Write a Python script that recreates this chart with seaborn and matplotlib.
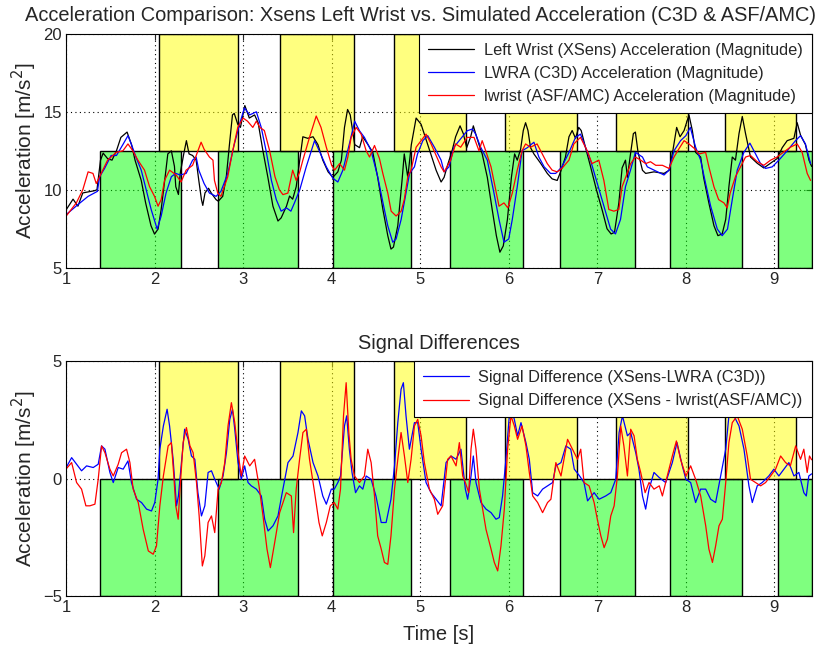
import matplotlib
matplotlib.use('Agg')
import pandas as pd
import seaborn as sns
import matplotlib.pyplot as plt
from matplotlib.patches import Rectangle

# phase intervals (s)
green_spans = [(1.38, 2.30), (2.72, 3.62), (4.02, 4.90), (5.34, 6.16),
               (6.58, 7.42), (7.82, 8.63), (9.04, 9.42)]
yellow_spans = [(2.045, 2.94), (3.42, 4.25), (4.70, 5.52), (5.96, 6.77),
                (7.21, 8.02), (8.44, 9.24)]

# top: acceleration magnitude
xsens_t = [1.00, 1.08, 1.135, 1.19, 1.32, 1.35, 1.39, 1.42, 1.47, 1.52, 1.57, 1.62, 1.69, 1.74, 1.78,
           1.85, 1.90, 1.96, 2.00, 2.04, 2.075, 2.12, 2.15, 2.19, 2.225, 2.24, 2.27, 2.29, 2.33, 2.36,
           2.39, 2.43, 2.47, 2.50, 2.53, 2.545, 2.57, 2.61, 2.64, 2.695, 2.72, 2.77, 2.81, 2.846, 2.88,
           2.90, 2.94, 2.97, 3.02, 3.07, 3.13, 3.17, 3.224, 3.28, 3.337, 3.394, 3.43, 3.49, 3.525, 3.56,
           3.60, 3.64, 3.675, 3.73, 3.79, 3.845, 3.90, 3.96, 4.014, 4.07, 4.11, 4.145, 4.18, 4.21, 4.26,
           4.315, 4.35, 4.41, 4.465, 4.52, 4.58, 4.634, 4.67, 4.698, 4.747, 4.795, 4.82, 4.86, 4.90,
           4.954, 5.01, 5.085, 5.18, 5.236, 5.27, 5.31, 5.36, 5.40, 5.45, 5.487, 5.525, 5.57, 5.60,
           5.626, 5.664, 5.70, 5.758, 5.814, 5.86, 5.90, 5.938, 5.985, 6.03, 6.066, 6.096, 6.134, 6.164,
           6.19, 6.217, 6.246, 6.284, 6.36, 6.435, 6.49, 6.547, 6.585, 6.64, 6.68, 6.716, 6.754, 6.79,
           6.818, 6.867, 6.923, 6.99, 7.055, 7.11, 7.156, 7.194, 7.243, 7.28, 7.318, 7.34, 7.37, 7.407,
           7.43, 7.46, 7.51, 7.546, 7.64, 7.753, 7.81, 7.847, 7.896, 7.934, 7.98, 8.035, 8.073, 8.11,
           8.167, 8.20, 8.26, 8.317, 8.362, 8.41, 8.45, 8.486, 8.524, 8.56, 8.60, 8.637, 8.674, 8.73,
           8.806, 8.88, 8.956, 9.03, 9.088, 9.144, 9.22, 9.257, 9.295, 9.35, 9.39, 9.42]
xsens_acc = [8.7, 9.4, 8.95, 9.8, 9.94, 10.0, 11.9, 12.35, 12.0, 11.9, 12.5, 13.36, 13.7, 12.9, 11.9,
             10.6, 9.15, 7.7, 7.16, 7.48, 8.74, 10.84, 12.3, 12.5, 11.5, 10.2, 9.7, 11.05, 12.3, 13.15,
             12.3, 12.2, 11.9, 10.6, 9.37, 9.0, 9.8, 10.1, 9.8, 9.37, 9.27, 9.58, 10.8, 12.9, 14.8,
             14.9, 14.2, 14.0, 15.4, 14.6, 14.8, 14.3, 12.5, 10.8, 8.95, 8.0, 8.2, 8.95, 9.6, 9.4,
             10.2, 11.9, 13.4, 13.3, 13.4, 12.9, 11.9, 11.15, 10.8, 11.15, 11.9, 14.0, 15.15, 14.8, 12.9,
             12.7, 13.4, 12.9, 12.4, 10.8, 8.7, 7.06, 6.2, 6.33, 7.7, 10.6, 12.3, 10.8, 12.9,
             14.6, 14.2, 12.9, 11.25, 10.5, 10.8, 11.6, 12.5, 13.4, 14.1, 13.6, 12.7, 13.4, 14.1,
             13.6, 12.9, 12.3, 10.8, 8.7, 7.06, 6.0, 6.4, 8.1, 10.8, 12.3, 11.9, 12.6, 13.8,
             14.3, 13.8, 12.7, 12.3, 11.7, 11.05, 10.7, 10.6, 11.15, 12.1, 13.4, 13.8, 13.3, 14.0,
             13.8, 12.7, 11.5, 10.0, 8.7, 7.5, 7.17, 7.27, 9.15, 11.4, 11.9, 10.8, 12.1, 13.6,
             13.7, 12.4, 11.25, 11.05, 11.15, 11.05, 11.25, 12.3, 14.0, 13.4, 13.8, 14.8, 13.8, 12.4,
             12.1, 10.8, 9.15, 7.7, 7.06, 7.17, 8.1, 10.2, 12.1, 11.9, 13.6, 14.7, 13.6, 12.1,
             11.7, 11.4, 11.7, 12.0, 12.7, 13.15, 13.3, 14.3, 13.5, 12.9, 11.9, 11.5]

c3d_t = [1.00, 1.135, 1.25, 1.355, 1.38, 1.436, 1.51, 1.57, 1.643, 1.70, 1.74, 1.79, 1.85, 1.906,
         1.962, 2.03, 2.075, 2.13, 2.19, 2.24, 2.29, 2.357, 2.43, 2.47, 2.50, 2.56, 2.62, 2.695, 2.75,
         2.827, 2.90, 2.96, 3.015, 3.074, 3.15, 3.205, 3.26, 3.32, 3.375, 3.43, 3.49, 3.54, 3.58,
         3.64, 3.713, 3.807, 3.86, 3.94, 4.014, 4.07, 4.127, 4.20, 4.26, 4.315, 4.37, 4.446, 4.52,
         4.58, 4.634, 4.69, 4.728, 4.785, 4.84, 4.88, 4.935, 4.97, 5.03, 5.085, 5.16, 5.236, 5.27,
         5.325, 5.38, 5.44, 5.53, 5.59, 5.626, 5.683, 5.758, 5.833, 5.89, 5.946, 6.00, 6.04, 6.096,
         6.15, 6.21, 6.284, 6.34, 6.40, 6.472, 6.53, 6.60, 6.68, 6.754, 6.81, 6.867, 6.923, 7.00,
         7.074, 7.15, 7.205, 7.262, 7.318, 7.375, 7.43, 7.51, 7.565, 7.64, 7.753, 7.81, 7.866, 7.94,
         8.00, 8.05, 8.11, 8.167, 8.223, 8.28, 8.355, 8.41, 8.47, 8.524, 8.58, 8.655, 8.723, 8.787,
         8.843, 8.90, 8.975, 9.05, 9.144, 9.238, 9.295, 9.35, 9.408]
c3d_acc = [8.4, 9.05, 9.58, 9.9, 10.84, 11.37, 12.2, 12.2, 12.9, 13.47, 12.9, 12.1, 11.26, 10.0,
           8.74, 7.48, 8.32, 9.79, 10.84, 11.05, 10.95, 11.05, 11.9, 12.1, 11.26, 10.4, 9.79, 9.58, 9.9,
           11.05, 12.9, 14.2, 15.25, 14.8, 15.0, 14.0, 12.5, 10.6, 9.37, 8.63, 8.84, 8.63, 9.16,
           10.0, 11.47, 13.15, 12.5, 11.47, 10.74, 10.5, 11.26, 12.94, 14.4, 13.78, 13.36, 12.5, 10.84,
           9.16, 7.69, 6.64, 6.85, 8.1, 9.8, 11.05, 11.47, 12.3, 13.15, 13.47, 12.73, 11.9, 11.15,
           11.47, 12.73, 13.15, 13.78, 13.9, 13.57, 12.73, 11.9, 9.79, 8.1, 6.64, 6.85, 8.1, 10.2,
           12.5, 12.7, 13.05, 12.1, 11.47, 11.05, 11.05, 11.47, 12.4, 13.36, 13.57, 12.73, 11.9, 10.4,
           8.95, 7.48, 7.17, 8.1, 10.2, 11.26, 12.4, 12.1, 11.47, 11.26, 10.95, 11.26, 12.5, 13.15,
           13.47, 14.0, 12.73, 11.9, 10.4, 8.95, 7.48, 7.06, 7.48, 9.37, 11.26, 12.4, 12.99, 12.3,
           11.68, 11.37, 11.47, 11.9, 12.5, 13.15, 13.47, 12.94, 11.68]

asf_t = [1.00, 1.117, 1.19, 1.25, 1.305, 1.342, 1.38, 1.47, 1.568, 1.643, 1.70, 1.755, 1.812, 1.887,
         1.944, 2.00, 2.04, 2.075, 2.113, 2.17, 2.244, 2.30, 2.357, 2.43, 2.49, 2.526, 2.56, 2.62,
         2.66, 2.677, 2.714, 2.75, 2.827, 2.883, 2.94, 3.00, 3.05, 3.11, 3.15, 3.19, 3.24, 3.30, 3.36,
         3.41, 3.45, 3.506, 3.56, 3.60, 3.64, 3.675, 3.75, 3.826, 3.88, 3.94, 4.00, 4.033, 4.09,
         4.145, 4.183, 4.22, 4.277, 4.333, 4.39, 4.428, 4.484, 4.54, 4.578, 4.634, 4.672, 4.728,
         4.785, 4.82, 4.86, 4.897, 4.954, 5.01, 5.066, 5.123, 5.18, 5.236, 5.27, 5.344, 5.40, 5.457,
         5.53, 5.608, 5.664, 5.70, 5.74, 5.80, 5.852, 5.89, 5.946, 5.99, 6.04, 6.096, 6.15, 6.19,
         6.246, 6.32, 6.378, 6.435, 6.49, 6.547, 6.60, 6.68, 6.735, 6.81, 6.886, 6.94, 7.017, 7.074,
         7.13, 7.187, 7.243, 7.28, 7.337, 7.377, 7.43, 7.49, 7.546, 7.60, 7.66, 7.735, 7.81, 7.866,
         7.922, 7.98, 8.035, 8.10, 8.15, 8.223, 8.26, 8.317, 8.37, 8.43, 8.467, 8.50, 8.56, 8.617,
         8.674, 8.73, 8.806, 8.88, 8.956, 9.03, 9.10, 9.18, 9.257, 9.313, 9.37, 9.408]
asf_acc = [8.3, 9.16, 10.0, 11.15, 11.05, 10.4, 10.84, 11.9, 12.4, 12.5, 12.94, 12.5, 11.9, 11.26,
           10.2, 9.58, 8.95, 9.37, 10.6, 11.26, 10.95, 10.5, 11.26, 11.57, 12.5, 13.05, 12.6, 12.1,
           11.9, 10.6, 9.79, 9.58, 10.84, 12.5, 14.0, 14.6, 14.4, 14.0, 14.4, 14.0, 13.8, 12.5, 10.84,
           10.0, 9.69, 9.79, 11.26, 10.6, 11.15, 11.9, 13.36, 14.73, 14.0, 12.73, 11.57, 11.26, 11.68,
           11.26, 12.1, 13.36, 14.0, 13.57, 12.5, 12.1, 12.84, 12.0, 11.05, 9.79, 8.63, 8.32,
           8.63, 9.37, 10.84, 11.26, 12.73, 13.15, 13.57, 12.94, 12.2, 11.47, 11.15, 11.9, 12.94, 12.73,
           13.36, 13.36, 12.5, 13.15, 12.5, 11.47, 10.0, 8.95, 9.16, 8.84, 9.79, 11.26, 12.5, 12.94,
           12.73, 12.94, 12.3, 11.68, 11.26, 11.15, 11.37, 11.9, 12.94, 13.36, 12.5, 11.68, 11.9, 10.6,
           8.74, 8.63, 8.74, 10.2, 11.05, 11.68, 12.1, 11.9, 11.68, 11.8, 11.57, 11.57, 11.37, 12.1,
           12.63, 13.15, 12.94, 12.63, 12.3, 12.4, 11.47, 10.2, 9.37, 9.16, 8.84, 9.79, 10.84, 11.47,
           12.1, 12.2, 11.8, 11.57, 11.9, 12.1, 12.4, 12.73, 12.94, 12.4, 11.05, 10.6]

# bottom: signal differences
diff_c3d_t = [1.00, 1.064, 1.12, 1.176, 1.233, 1.308, 1.364, 1.402, 1.44, 1.496, 1.534, 1.59, 1.646,
              1.70, 1.74, 1.797, 1.853, 1.91, 1.966, 2.003, 2.04, 2.06, 2.10, 2.142, 2.17, 2.21, 2.248,
              2.27, 2.304, 2.34, 2.38, 2.417, 2.455, 2.49, 2.53, 2.568, 2.605, 2.643, 2.68, 2.73, 2.774,
              2.812, 2.85, 2.88, 2.906, 2.943, 2.98, 3.018, 3.056, 3.093, 3.15, 3.206, 3.244, 3.282,
              3.338, 3.394, 3.45, 3.507, 3.564, 3.62, 3.658, 3.695, 3.733, 3.79, 3.846, 3.90, 3.94,
              3.996, 4.03, 4.07, 4.10, 4.145, 4.17, 4.20, 4.23, 4.27, 4.314, 4.352, 4.39, 4.446, 4.50,
              4.56, 4.615, 4.67, 4.71, 4.747, 4.784, 4.81, 4.84, 4.878, 4.935, 4.972, 5.01, 5.066,
              5.122, 5.18, 5.236, 5.292, 5.348, 5.405, 5.46, 5.51, 5.536, 5.574, 5.60, 5.63, 5.686,
              5.743, 5.80, 5.856, 5.893, 5.93, 5.968, 6.006, 6.025, 6.063, 6.10, 6.138, 6.194, 6.232,
              6.27, 6.326, 6.382, 6.438, 6.495, 6.532, 6.59, 6.645, 6.70, 6.74, 6.80, 6.85, 6.89, 6.964,
              7.02, 7.095, 7.152, 7.208, 7.246, 7.284, 7.34, 7.377, 7.434, 7.47, 7.51, 7.546, 7.584,
              7.64, 7.70, 7.772, 7.847, 7.90, 7.96, 8.00, 8.054, 8.11, 8.167, 8.224, 8.28, 8.336, 8.393,
              8.45, 8.486, 8.543, 8.60, 8.656, 8.712, 8.75, 8.806, 8.862, 8.937, 8.994, 9.05, 9.107,
              9.163, 9.22, 9.276, 9.332, 9.36, 9.388, 9.42]
diff_c3d = [0.45, 0.89, 0.61, 0.33, 0.54, 0.47, 0.61, 1.39, 1.25, 0.26, -0.17, 0.47, 0.4,
            0.75, -0.17, -0.88, -1.02, -1.3, -1.38, -1.02, -0.03, 1.25, 2.24, 2.95, 2.24, 0.82, -1.16,
            -0.74, 0.68, 2.1, 1.67, 0.96, 0.82, -0.6, -1.59, -1.16, 0.26, 0.33, -0.03, -0.45, 0.11,
            1.1, 2.52, 2.95, 2.1, 0.68, -0.03, 0.54, -0.17, -0.31, -0.45, -0.74, -1.73, -2.23,
            -2.01, -1.59, -0.45, 0.68, 0.96, 1.96, 2.88, 2.67, 1.67, 0.68, 0.11, -0.74, -1.09,
            -0.45, -0.45, -0.17, 0.11, 2.24, 2.67, 1.25, 0.26, -0.6, -0.31, -0.45, 0.11, -0.03, -0.74,
            -1.87, -1.87, -0.88, 0.54, 2.38, 3.8, 4.08, 2.67, 1.25, 2.38, 2.38, 1.25, -0.17,
            -0.6, -0.88, -1.16, 0.68, 0.96, 0.82, 1.25, -0.45, -0.88, 0.11, 0.96, -0.17, -1.02,
            -1.3, -1.45, -1.73, -1.66, -0.74, 0.82, 2.67, 2.95, 2.52, 1.82, 2.38, 1.53, 0.82,
            -0.6, -0.74, -0.45, -0.31, -0.17, 0.54, 0.68, 1.39, 1.25, 0.4, 0.11, -0.17, -0.95, -0.6,
            -0.88, -0.74, -0.6, -0.03, 1.96, 2.67, 1.82, 1.96, 1.1, 0.4, -0.74, -1.3, -0.45,
            0.26, 0.04, -0.17, 0.68, 1.53, 0.54, -0.03, -0.17, -1.02, -0.45, -0.45, -0.88, -1.02, 0.11,
            1.25, 2.67, 2.67, 2.24, 1.25, -0.31, -1.02, -0.31, -0.17, 0.11, 0.4, 0.11, 0.4,
            0.68, 0.11, 0.26, -0.6, -0.74, 0.11, 0.2]

diff_asf_t = [1.00, 1.064, 1.12, 1.176, 1.225, 1.27, 1.327, 1.364, 1.402, 1.44, 1.496, 1.534, 1.59,
              1.628, 1.684, 1.722, 1.759, 1.816, 1.872, 1.93, 1.985, 2.022, 2.06, 2.10, 2.154, 2.19,
              2.218, 2.24, 2.267, 2.293, 2.323, 2.36, 2.40, 2.436, 2.474, 2.504, 2.54, 2.568, 2.605,
              2.643, 2.68, 2.718, 2.755, 2.793, 2.83, 2.868, 2.906, 2.943, 2.98, 3.018, 3.075, 3.13,
              3.18, 3.225, 3.27, 3.308, 3.357, 3.413, 3.488, 3.545, 3.57, 3.60, 3.638, 3.676, 3.714,
              3.75, 3.808, 3.857, 3.894, 3.94, 3.985, 4.03, 4.07, 4.10, 4.134, 4.164, 4.194, 4.22,
              4.258, 4.314, 4.37, 4.408, 4.446, 4.484, 4.52, 4.56, 4.596, 4.634, 4.67, 4.71, 4.747,
              4.784, 4.822, 4.86, 4.897, 4.935, 4.972, 5.01, 5.047, 5.104, 5.16, 5.198, 5.254, 5.31,
              5.348, 5.405, 5.442, 5.48, 5.51, 5.548, 5.574, 5.60, 5.63, 5.668, 5.705, 5.743, 5.80,
              5.837, 5.875, 5.912, 5.95, 5.987, 6.025, 6.063, 6.10, 6.15, 6.194, 6.232, 6.27, 6.326,
              6.382, 6.438, 6.476, 6.532, 6.59, 6.664, 6.72, 6.776, 6.813, 6.85, 6.907, 6.964, 7.00,
              7.04, 7.077, 7.114, 7.152, 7.19, 7.227, 7.265, 7.30, 7.34, 7.377, 7.415, 7.452, 7.49,
              7.54, 7.584, 7.64, 7.70, 7.735, 7.79, 7.847, 7.893, 7.94, 8.00, 8.054, 8.11, 8.167, 8.224,
              8.26, 8.30, 8.336, 8.374, 8.412, 8.45, 8.486, 8.524, 8.58, 8.637, 8.693, 8.73, 8.787,
              8.844, 8.90, 8.957, 9.013, 9.07, 9.126, 9.18, 9.24, 9.295, 9.332, 9.37, 9.396, 9.42]
diff_asf = [0.4, 0.68, -0.17, -0.45, -1.16, -1.16, -1.09, -0.03, 1.39, 1.1, 0.4, 0.11, 0.61,
            1.1, 1.25, 0.68, -0.45, -1.02, -2.16, -3.08, -3.22, -2.87, -1.16, 0.11, 1.39, 1.53,
            0.11, -1.16, -1.73, -0.17, 1.53, 2.17, 1.39, 1.1, -0.17, -1.59, -3.72, -3.29, -1.87,
            -1.59, -2.3, -0.45, -0.17, 0.68, 2.24, 3.23, 2.38, 1.1, 0.11, 0.96, 0.54, 0.82,
            -0.31, -1.59, -3.0, -3.79, -2.72, -1.45, -0.6, -0.74, -2.3, -0.45, 0.82, 1.96, 2.1,
            0.82, -0.6, -1.87, -2.44, -1.87, -1.16, -1.02, -1.3, -0.45, 2.67, 4.08, 1.96, 0.82,
            0.11, -0.17, 0.11, 1.25, 0.68, -0.74, -2.44, -3.0, -3.57, -3.65, -2.44, -0.45, 0.82,
            1.96, 0.96, -0.17, 0.82, 2.24, 2.52, 1.82, 0.68, -0.45, -0.88, -1.52, -1.16, 0.82,
            0.96, 0.54, 1.53, 0.11, -0.17, -0.6, 1.25, 2.1, 1.25, -0.45, -1.3, -2.16, -3.0,
            -3.57, -3.93, -2.87, -1.3, 1.25, 2.67, 2.24, 1.67, 2.24, 1.39, 0.26, -0.74, -1.02,
            -1.45, -1.02, -0.88, 0.68, 0.11, 1.67, 1.25, 0.82, 1.25, -0.17, -0.31, -1.02, -1.73,
            -2.44, -2.94, -2.58, -1.59, -1.16, 0.11, 2.24, 1.39, 0.11, 2.1, 1.82, 0.82, 0.26,
            -0.6, -0.17, -0.45, -0.31, -0.74, 0.11, 0.96, 1.6, 0.82, 0.11, 0.54, -0.03, -0.74, -2.01,
            -3.0, -3.57, -2.87, -2.01, -1.73, -0.17, 1.53, 2.38, 2.67, 2.1, 0.96, -0.03, -0.17,
            -0.31, -0.17, 0.11, 0.4, 0.96, 0.68, 0.54, 1.39, 0.82, 1.25, 0.26, 0.96, 0.8]

sns.set_style('white')
plt.rcParams['font.family'] = ['Liberation Sans', 'DejaVu Sans']
plt.rcParams['axes.linewidth'] = 0.8

fig = plt.figure(figsize=(8.35, 6.5), dpi=100)
ax1 = fig.add_axes([0.079, 0.588, 0.893, 0.36])
ax2 = fig.add_axes([0.079, 0.083, 0.893, 0.3615])


def draw_phases(ax, lo, mid, hi):
    for a, b in green_spans:
        ax.add_patch(Rectangle((a, lo), b - a, mid - lo, facecolor=(0, 1, 0, 0.5),
                               edgecolor='black', linewidth=1.0, zorder=1))
    for a, b in yellow_spans:
        ax.add_patch(Rectangle((a, mid), b - a, hi - mid, facecolor=(1, 1, 0, 0.5),
                               edgecolor='black', linewidth=1.0, zorder=1))


def style_axes(ax, ylim, yticks):
    ax.set_xlim(1, 9.42)
    ax.set_ylim(*ylim)
    ax.set_xticks(range(1, 10))
    ax.set_yticks(yticks)
    ax.set_axisbelow(True)
    ax.grid(True, linestyle=(0, (1, 3)), color='black', linewidth=0.8)
    ax.tick_params(direction='in', top=True, right=True, length=4, labelsize=12, pad=3)
    for s in ax.spines.values():
        s.set_color('black')
        s.set_zorder(5)


def add_legend(ax):
    leg = ax.legend(loc='upper right', borderaxespad=0, fancybox=False, edgecolor='black',
                    framealpha=1, fontsize=11.8, handlelength=2.8, handletextpad=0.6,
                    borderpad=0.55, labelspacing=0.5)
    leg.get_frame().set_linewidth(0.8)
    leg.set_zorder(10)


# top panel
draw_phases(ax1, 5, 12.5, 20)
top = pd.DataFrame({'t': xsens_t, 'a': xsens_acc})
sns.lineplot(data=top, x='t', y='a', ax=ax1, color='black', linewidth=0.9, estimator=None,
             sort=False, label='Left Wrist (XSens) Acceleration (Magnitude)', zorder=3)
sns.lineplot(x=c3d_t, y=c3d_acc, ax=ax1, color='#0000ff', linewidth=0.9, estimator=None,
             sort=False, label='LWRA (C3D) Acceleration (Magnitude)', zorder=3)
sns.lineplot(x=asf_t, y=asf_acc, ax=ax1, color='#ff0000', linewidth=0.9, estimator=None,
             sort=False, label='lwrist (ASF/AMC) Acceleration (Magnitude)', zorder=3)
style_axes(ax1, (5, 20), [5, 10, 15, 20])
ax1.set_title('Acceleration Comparison: Xsens Left Wrist vs. Simulated Acceleration (C3D & ASF/AMC)',
              fontsize=14.4, pad=9, x=0.475)
ax1.set_xlabel('')
ax1.set_ylabel('Acceleration [m/s$^2$]', fontsize=15, labelpad=3)
add_legend(ax1)

# bottom panel
draw_phases(ax2, -5, 0, 5)
sns.lineplot(x=diff_c3d_t, y=diff_c3d, ax=ax2, color='#0000ff', linewidth=0.9, estimator=None,
             sort=False, label='Signal Difference (XSens-LWRA (C3D))', zorder=3)
sns.lineplot(x=diff_asf_t, y=diff_asf, ax=ax2, color='#ff0000', linewidth=0.9, estimator=None,
             sort=False, label='Signal Difference (XSens - lwrist(ASF/AMC))', zorder=3)
style_axes(ax2, (-5, 5), [-5, 0, 5])
ax2.set_title('Signal Differences', fontsize=14.4, pad=9)
ax2.set_xlabel('Time [s]', fontsize=14.5, labelpad=7)
ax2.set_ylabel('Acceleration [m/s$^2$]', fontsize=15, labelpad=3)
add_legend(ax2)

fig.savefig('out.png', dpi=100)
